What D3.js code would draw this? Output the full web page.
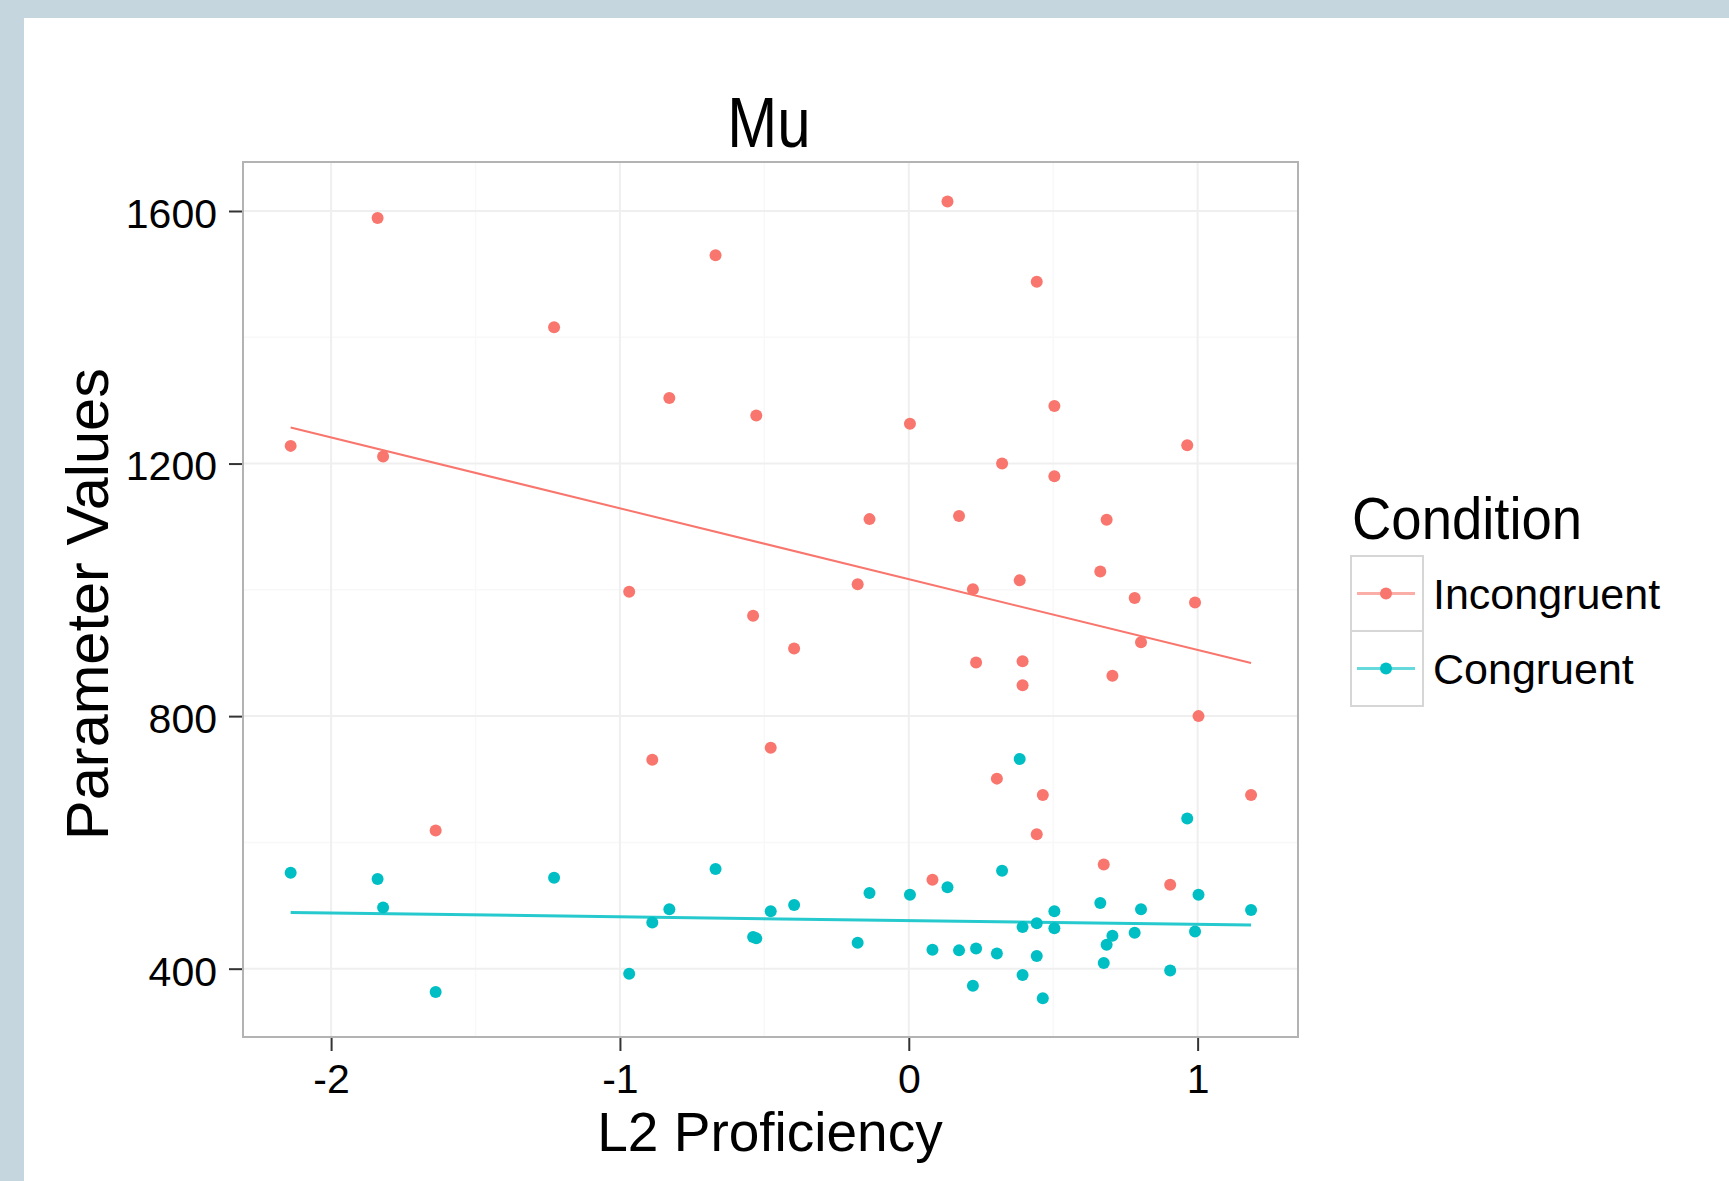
<!DOCTYPE html>
<html>
<head>
<meta charset="utf-8">
<script src="https://cdn.jsdelivr.net/npm/d3@7"></script>
<style>
  body { margin: 0; background: #fff; }
  text { font-family: "Liberation Sans", Arial, sans-serif; fill: #000; }
</style>
</head>
<body>
<script>
// L2 proficiency per participant (shared by both conditions)
const proficiency = [-2.140, -1.839, -1.820, -1.638, -1.228, -0.968, -0.888, -0.829, -0.669, -0.539,
                     -0.528, -0.478, -0.397, -0.177, -0.136, 0.004, 0.082, 0.134, 0.174, 0.222,
                     0.233, 0.305, 0.323, 0.384, 0.394, 0.394, 0.443, 0.443, 0.464, 0.504,
                     0.504, 0.663, 0.675, 0.685, 0.705, 0.782, 0.804, 0.905, 0.964, 0.991,
                     1.003, 1.185];
const incongruent = [1228, 1589, 1211, 619, 1416, 997, 731, 1304, 1530, 959,
                     1276, 750, 907, 1009, 1112, 1263, 541, 1615, 1117, 1001,
                     885, 701, 1200, 1015, 887, 849, 1488, 613, 675, 1291,
                     1180, 1029, 565, 1111, 864, 987, 917, 533, 1229, 980,
                     800, 675];
const congruent = [552, 542, 497, 363, 544, 392, 473, 494, 558, 450,
                   448, 491, 501, 441, 520, 517, 430, 529, 429, 373,
                   432, 424, 555, 732, 466, 390, 472, 420, 353, 491,
                   464, 504, 409, 438, 452, 457, 494, 397, 638, 459,
                   517, 493];
// fitted line values at the lowest and highest proficiency
const incongruentFit = [1257, 884];
const congruentFit = [489, 469];

const conditions = ['Incongruent', 'Congruent'];
const colors = ['#F8766D', '#00BFC4'];
const xTicks = [-2, -1, 0, 1];
const xMinor = [-1.5, -0.5, 0.5];
const yTicks = [400, 800, 1200, 1600];
const yMinor = [600, 1000, 1400];

const w = 1729,
      h = 1181,
      pLeft = 243,
      pRight = 1298,
      pTop = 162,
      pBottom = 1037;

const svg = d3.select('body')
            .append('svg')
            .attr('width', w)
            .attr('height', h);

svg.append('rect').attr('width', w).attr('height', h).attr('fill', '#fff');
svg.append('rect').attr('width', w).attr('height', 18).attr('fill', '#c5d6df');
svg.append('rect').attr('width', 24).attr('height', h).attr('fill', '#c5d6df');

const xScale = d3.scaleLinear()
                .domain([-2.305, 1.3475])
                .range([pLeft, pRight]);
const yScale = d3.scaleLinear()
                .domain([291.8, 1677.6])
                .range([pBottom, pTop]);

// grid
svg.selectAll('.xminor').data(xMinor).enter().append('line')
    .attr('x1', d => xScale(d)).attr('x2', d => xScale(d))
    .attr('y1', pTop).attr('y2', pBottom)
    .attr('stroke', '#f8f8f8').attr('stroke-width', 1.5);
svg.selectAll('.yminor').data(yMinor).enter().append('line')
    .attr('y1', d => yScale(d)).attr('y2', d => yScale(d))
    .attr('x1', pLeft).attr('x2', pRight)
    .attr('stroke', '#f8f8f8').attr('stroke-width', 1.5);
svg.selectAll('.xmajor').data(xTicks).enter().append('line')
    .attr('x1', d => xScale(d)).attr('x2', d => xScale(d))
    .attr('y1', pTop).attr('y2', pBottom)
    .attr('stroke', '#efefef').attr('stroke-width', 2);
svg.selectAll('.ymajor').data(yTicks).enter().append('line')
    .attr('y1', d => yScale(d)).attr('y2', d => yScale(d))
    .attr('x1', pLeft).attr('x2', pRight)
    .attr('stroke', '#efefef').attr('stroke-width', 2);

// fitted lines
const xExt = d3.extent(proficiency);
[incongruentFit, congruentFit].forEach((fit, i) => {
  svg.append('line')
      .attr('x1', xScale(xExt[0])).attr('y1', yScale(fit[0]))
      .attr('x2', xScale(xExt[1])).attr('y2', yScale(fit[1]))
      .attr('stroke', colors[i])
      .attr('stroke-opacity', i === 0 ? 1 : 0.85)
      .attr('stroke-width', i === 0 ? 2 : 3);
});

// points
[incongruent, congruent].forEach((vals, i) => {
  svg.append('g').selectAll('circle')
      .data(vals)
      .enter()
      .append('circle')
      .attr('cx', (d, j) => xScale(proficiency[j]))
      .attr('cy', d => yScale(d))
      .attr('r', 6)
      .attr('fill', colors[i]);
});

// panel border
svg.append('rect')
    .attr('x', pLeft).attr('y', pTop)
    .attr('width', pRight - pLeft).attr('height', pBottom - pTop)
    .attr('fill', 'none')
    .attr('stroke', '#b3b3b3')
    .attr('stroke-width', 2);

const xAxis = d3.axisBottom(xScale)
                .tickValues(xTicks)
                .tickFormat(d => String(d))
                .tickSize(13)
                .tickPadding(13);
const yAxis = d3.axisLeft(yScale)
                .tickValues(yTicks)
                .tickFormat(d => String(d))
                .tickSize(13)
                .tickPadding(12);

const gx = svg.append('g')
    .attr('transform', 'translate(0, ' + (pBottom + 1) + ')')
    .call(xAxis);
const gy = svg.append('g')
    .attr('transform', 'translate(' + (pLeft - 1) + ', 0)')
    .call(yAxis);
[gx, gy].forEach(g => {
  g.select('.domain').remove();
  g.selectAll('line').attr('stroke', '#333').attr('stroke-width', 2);
  g.selectAll('text').attr('font-size', 41).attr('fill', '#000')
      .style('font-family', '"Liberation Sans", Arial, sans-serif');
});
gy.selectAll('text').attr('dy', '0.40em');

// titles
svg.append('text')
    .attr('transform', 'translate(769, 147) scale(1, 1.17)')
    .attr('text-anchor', 'middle')
    .attr('font-size', 60)
    .text('Mu');
svg.append('text')
    .attr('x', 770).attr('y', 1151)
    .attr('text-anchor', 'middle')
    .attr('font-size', 55)
    .text('L2 Proficiency');
svg.append('text')
    .attr('transform', 'translate(108, 604) rotate(-90)')
    .attr('text-anchor', 'middle')
    .attr('font-size', 59.5)
    .text('Parameter Values');

// legend
svg.append('text')
    .attr('transform', 'translate(1352, 539) scale(1, 1.1)')
    .attr('font-size', 54.5)
    .text('Condition');
const keys = svg.selectAll('.key')
    .data(conditions)
    .enter()
    .append('g')
    .attr('transform', (d, i) => 'translate(1351, ' + (556 + i * 75) + ')');
keys.append('rect')
    .attr('width', 72).attr('height', 75)
    .attr('fill', '#fff')
    .attr('stroke', '#d6d6d6')
    .attr('stroke-width', 2);
keys.append('line')
    .attr('x1', 6).attr('x2', 64)
    .attr('y1', 37.5).attr('y2', 37.5)
    .attr('stroke', (d, i) => colors[i])
    .attr('stroke-opacity', 0.6)
    .attr('stroke-width', 3);
keys.append('circle')
    .attr('cx', 35).attr('cy', 37.5)
    .attr('r', 6)
    .attr('fill', (d, i) => colors[i]);
keys.append('text')
    .attr('x', 82).attr('y', 53)
    .attr('font-size', 43)
    .text(d => d);
</script>
</body>
</html>
